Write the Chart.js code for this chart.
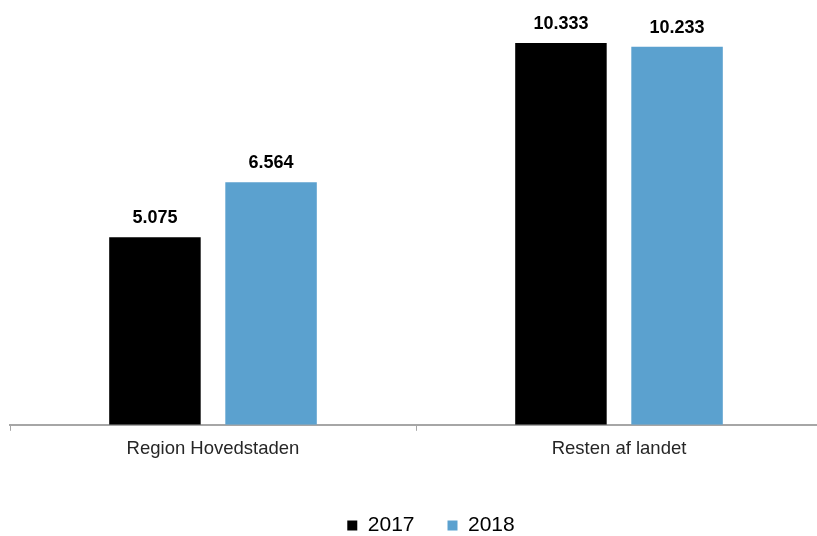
<!DOCTYPE html>
<html>
<head>
<meta charset="utf-8">
<script src="https://cdn.jsdelivr.net/npm/chart.js@4/dist/chart.umd.min.js"></script>
<style>
  html, body { margin: 0; padding: 0; background: #fff; overflow: hidden; }
  #wrap { width: 822px; height: 536px; }
</style>
</head>
<body>
<div id="wrap"><canvas id="chart"></canvas></div>
<script>
// Data
const categories = ['Region Hovedstaden', 'Resten af landet']
const values2017 = [5075, 10333]
const values2018 = [6564, 10233]
const seriesNames = ['2017', '2018']

const FONT = "'Liberation Sans', Arial, sans-serif"

// Format numbers the Danish way (5.075)
function formatDa(v) {
  return v.toLocaleString('da-DK')
}

// Draw the bold value above every bar
const valueLabels = {
  id: 'valueLabels',
  afterDatasetsDraw(chart) {
    const ctx = chart.ctx
    ctx.save()
    ctx.font = 'bold 18px ' + FONT
    ctx.fillStyle = '#000'
    ctx.textAlign = 'center'
    ctx.textBaseline = 'bottom'
    chart.data.datasets.forEach((ds, i) => {
      chart.getDatasetMeta(i).data.forEach((bar, j) => {
        ctx.fillText(formatDa(ds.data[j]), bar.x, bar.y - 10)
      })
    })
    ctx.restore()
  }
}

// The legend sits a bit right of the centre in the original
const legendShift = {
  id: 'legendShift',
  afterLayout(chart) {
    chart.legend.left += 15
    chart.legend.right += 15
  }
}

new Chart(document.getElementById('chart'), {
  type: 'bar',
  data: {
    labels: categories,
    datasets: [
      {
        label: seriesNames[0],
        data: values2017,
        backgroundColor: '#000000',
        categoryPercentage: 0.572,
        barPercentage: 0.788
      },
      {
        label: seriesNames[1],
        data: values2018,
        backgroundColor: '#5BA1CF',
        categoryPercentage: 0.572,
        barPercentage: 0.788
      }
    ]
  },
  options: {
    responsive: true,
    maintainAspectRatio: false,
    animation: false,
    layout: {
      padding: { left: 10, right: 0, top: 0, bottom: -10 }
    },
    scales: {
      x: {
        grid: {
          drawOnChartArea: false,
          drawTicks: true,
          tickLength: 6,
          color: '#A6A6A6',
          offset: true
        },
        border: { color: '#A6A6A6', width: 2 },
        ticks: {
          color: '#262626',
          font: { size: 18.5, family: FONT },
          padding: 7
        },
        afterFit(scale) {
          scale.height += 15
        }
      },
      y: {
        display: false,
        min: 0,
        max: 11500
      }
    },
    plugins: {
      legend: {
        position: 'bottom',
        labels: {
          boxWidth: 10,
          boxHeight: 10,
          padding: 33,
          color: '#000',
          font: { size: 21, family: FONT }
        }
      },
      tooltip: { enabled: false }
    }
  },
  plugins: [valueLabels, legendShift]
})
</script>
</body>
</html>
